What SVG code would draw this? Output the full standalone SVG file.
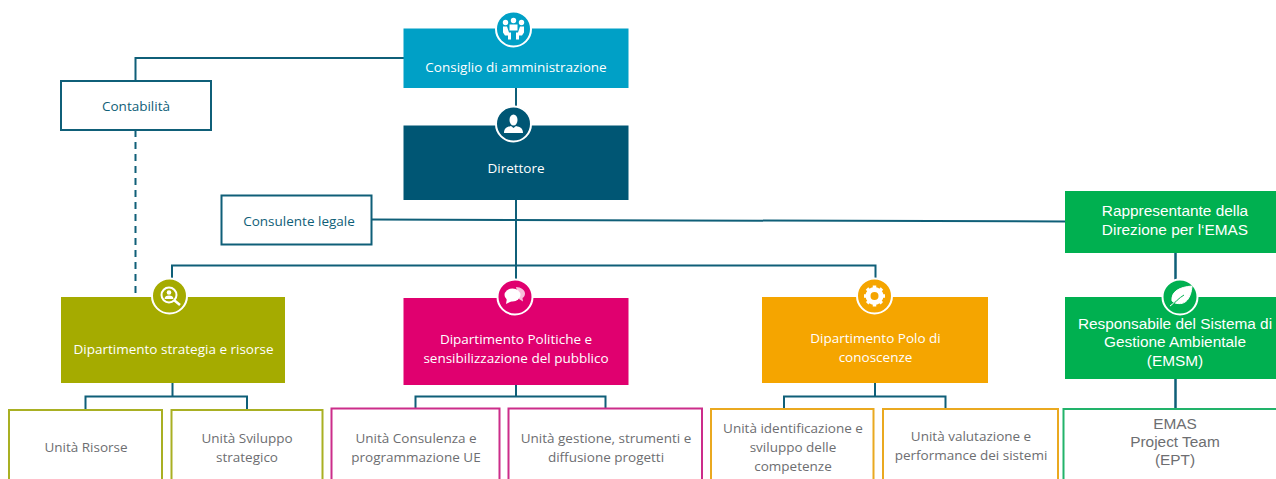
<svg xmlns="http://www.w3.org/2000/svg" width="1276" height="479" viewBox="0 0 1276 479">
<style>
.os{font-family:"Open Sans","Liberation Sans",sans-serif;font-size:13.5px;text-anchor:middle}
.ls{font-family:"Liberation Sans",Arial,sans-serif;font-size:15.4px;text-anchor:middle}
.w{fill:#fff}.g{fill:#6d6e71}.t{fill:#0f6078}
.c{fill:none;stroke:#0f5f78;stroke-width:2}
.ring{stroke:#fff;stroke-width:2}
.ic{fill:#fff}
.u{fill:#fff;stroke-width:2}
</style>
<rect width="1276" height="479" fill="#fff"/>
<g id="connectors" class="c">
<path d="M404 58H135.500V81"/>
<path d="M135.500 130V297" stroke-dasharray="7 5"/>
<path d="M516 88V110"/>
<path d="M516 200V285"/>
<path d="M371.500 219.500L1066 221.500"/>
<path d="M172 285V265.500H875.500V285"/>
<path d="M172.500 382V396.500M85.500 410V396.500H247V410"/>
<path d="M516 384V396.500M415.500 408V396.500H605.500V408"/>
<path d="M875 382V396.500M784 409V396.500H945.500V409"/>
<path d="M1175.500 252V282M1175.500 379V409" stroke-width="2.500"/>
</g>
<g id="n-consiglio">
<rect x="403.500" y="28.500" width="225" height="59.500" fill="#00a0c6"/>
<text class="os w" x="516" y="72">Consiglio di amministrazione</text>
<circle cx="513.500" cy="29" r="17.500" fill="#00a0c6" class="ring"/>
<g class="ic"><circle cx="505.500" cy="22.500" r="2.700"/><circle cx="513.500" cy="20.500" r="2.700"/><circle cx="521.500" cy="22.500" r="2.700"/><path d="M503 26.500h4l2 6h2v7h-3v-4h-3l-2-3zM524 26.500h-4l-2 6h-2v7h3v-4h3l2-3z"/><rect x="509.500" y="24.500" width="8" height="6"/></g>
</g>
<g id="n-direttore">
<rect x="403.500" y="125.500" width="225" height="74.500" fill="#005674"/>
<text class="os w" x="516" y="173">Direttore</text>
<circle cx="513.500" cy="124" r="17.500" fill="#005674" class="ring"/>
<g class="ic"><ellipse cx="513.500" cy="120" rx="4" ry="5.500"/><path d="M504 133c0-5 3-6 7-7l2.500 2 2.500-2c4 1 7 2 7 7z"/></g>
</g>
<g id="n-contabilita">
<rect x="61" y="81" width="150" height="49" class="u" stroke="#0f5f78"/>
<text class="os t" x="136" y="111">Contabilità</text>
</g>
<g id="n-legale">
<rect x="221.500" y="195.500" width="150" height="49" class="u" stroke="#0f5f78"/>
<text class="os t" x="299" y="226">Consulente legale</text>
</g>
<g id="n-emas-rep">
<rect x="1065" y="191" width="211" height="62" fill="#00b050"/>
<text class="ls w" x="1175" y="216">Rappresentante della</text>
<text class="ls w" x="1175" y="235">Direzione per l‘EMAS</text>
</g>
<g id="n-strategia">
<rect x="61" y="297" width="224" height="86" fill="#a5ab00"/>
<text class="os w" x="173.500" y="354">Dipartimento strategia e risorse</text>
<circle cx="169.500" cy="296" r="17.500" fill="#a5ab00" class="ring"/>
<circle cx="169" cy="295" r="7.500" fill="none" stroke="#fff" stroke-width="2"/>
<path d="M174.500 300.500L180 305" stroke="#fff" stroke-width="2.500" fill="none"/>
<g class="ic"><circle cx="169" cy="292.500" r="2.300"/><path d="M164.500 299c0-2.500 2-3.500 4.500-3.500s4.500 1 4.500 3.500z"/></g>
</g>
<g id="n-politiche">
<rect x="403.500" y="298" width="225" height="87" fill="#e0006f"/>
<text class="os w" x="516" y="344">Dipartimento Politiche e</text>
<text class="os w" x="516" y="363">sensibilizzazione del pubblico</text>
<circle cx="515" cy="297" r="17.500" fill="#e0006f" class="ring"/>
<g class="ic"><path d="M516 287c5 0 9 3 9 6.500 0 2-1 3.500-2.500 4.500l.5 3.500-4-2.500z" opacity=".75"/><ellipse cx="512.500" cy="295" rx="8" ry="6.500"/><path d="M507 298l-1 6 6-3z"/></g>
</g>
<g id="n-polo">
<rect x="762" y="297" width="226" height="86" fill="#f5a500"/>
<text class="os w" x="875.500" y="343">Dipartimento Polo di</text>
<text class="os w" x="875.500" y="362">conoscenze</text>
<circle cx="874.500" cy="296" r="17.500" fill="#f5a500" class="ring"/>
<circle cx="874.500" cy="296" r="6.500" fill="none" stroke="#fff" stroke-width="5"/>
<path d="M874.500 285.500V306.500M864 296H885M867 288.500L882 303.500M882 288.500L867 303.500" stroke="#fff" stroke-width="3.500" stroke-dasharray="3.500 14" fill="none"/>
</g>
<g id="n-emsm">
<rect x="1065" y="297" width="211" height="82" fill="#00b050"/>
<text class="ls w" x="1175" y="329">Responsabile del Sistema di</text>
<text class="ls w" x="1175" y="347">Gestione Ambientale</text>
<text class="ls w" x="1175" y="366">(EMSM)</text>
<circle cx="1180" cy="297" r="17.500" fill="#00b050" class="ring"/>
<path d="M1170 306c5-3 6-6 10-9M1172 301c-1-10 8-14 20-15-1 12-6 20-17 17z" fill="#fff" stroke="#fff"/>
<path d="M1171 307c4-5 8-9 13-12" stroke="#00b050" fill="none"/>
</g>
<g id="n-risorse"><path d="M9 479V410H162V479" class="u" stroke="#a9b023"/><text class="os g" x="86" y="452">Unità Risorse</text></g>
<g id="n-sviluppo"><path d="M171.500 479V410H322.500V479" class="u" stroke="#a9b023"/><text class="os g" x="247" y="443">Unità Sviluppo</text><text class="os g" x="247" y="462">strategico</text></g>
<g id="n-consulenza"><path d="M331.500 479V408.500H499.500V479" class="u" stroke="#cc2d8a"/><text class="os g" x="416" y="443">Unità Consulenza e</text><text class="os g" x="416" y="462">programmazione UE</text></g>
<g id="n-gestione"><path d="M508.500 479V408.500H702V479" class="u" stroke="#cc2d8a"/><text class="os g" x="606" y="443">Unità gestione, strumenti e</text><text class="os g" x="606" y="462">diffusione progetti</text></g>
<g id="n-identificazione"><path d="M711 479V409H873.500V479" class="u" stroke="#eaa920"/><text class="os g" x="793" y="433">Unità identificazione e</text><text class="os g" x="793" y="452">sviluppo delle</text><text class="os g" x="793" y="471">competenze</text></g>
<g id="n-valutazione"><path d="M883 479V409H1058V479" class="u" stroke="#eaa920"/><text class="os g" x="971" y="441">Unità valutazione e</text><text class="os g" x="971" y="460">performance dei sistemi</text></g>
<g id="n-ept"><path d="M1063.500 479V409H1276" class="u" stroke="#22b36b"/><text class="ls g" x="1175" y="429">EMAS</text><text class="ls g" x="1175" y="447">Project Team</text><text class="ls g" x="1175" y="465">(EPT)</text></g>
</svg>
